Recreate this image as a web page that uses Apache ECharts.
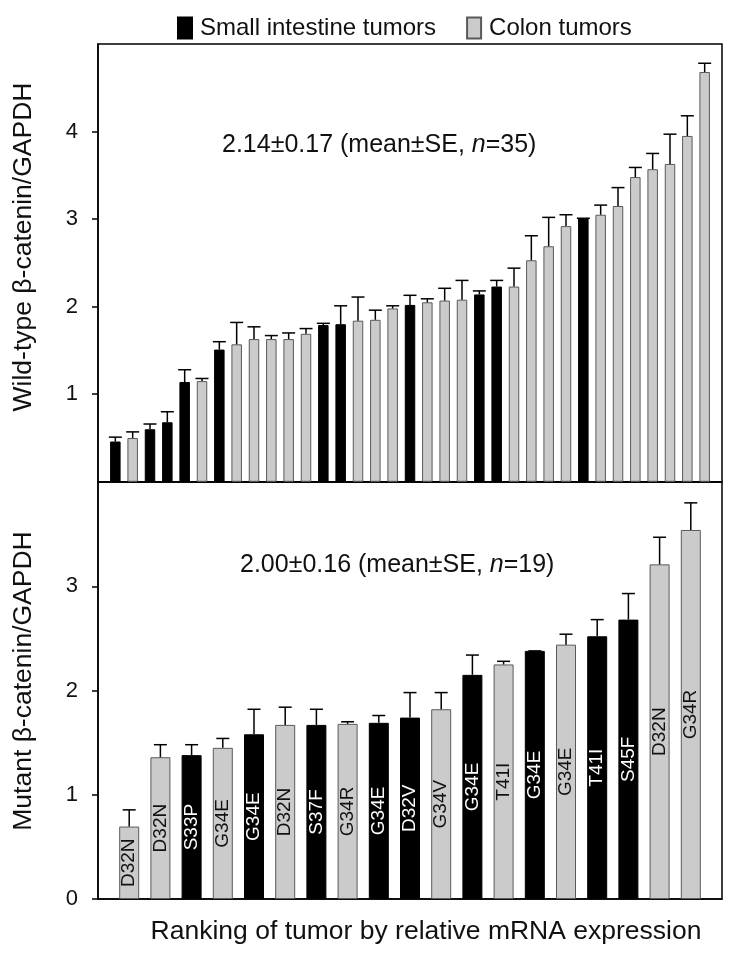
<!DOCTYPE html>
<html>
<head>
<meta charset="utf-8">
<script src="https://cdn.jsdelivr.net/npm/echarts@6/dist/echarts.min.js"></script>
<style>
html,body{margin:0;padding:0;background:#fff;}
#chart{width:729px;height:953px;}
</style>
</head>
<body>
<div id="chart"></div>
<script>
// ---- Data ----
// Top panel: wild-type beta-catenin/GAPDH, ranked (S = small intestine, C = colon)
var topTypes = ['S','C','S','S','S','C','S','C','C','C','C','C','S','S','C','C','C','S','C','C','C','S','S','C','C','C','C','S','C','C','C','C','C','C','C'];
var topValues = [0.46,0.50,0.60,0.68,1.14,1.15,1.51,1.57,1.63,1.63,1.63,1.69,1.79,1.80,1.84,1.85,1.98,2.02,2.05,2.07,2.08,2.14,2.23,2.23,2.53,2.69,2.92,3.01,3.05,3.15,3.48,3.57,3.63,3.95,4.68];
var topSE = [0.05,0.07,0.06,0.12,0.14,0.03,0.09,0.25,0.14,0.04,0.07,0.06,0.02,0.21,0.27,0.11,0.03,0.11,0.04,0.14,0.22,0.04,0.07,0.21,0.28,0.33,0.13,0.00,0.11,0.21,0.11,0.18,0.34,0.23,0.10];

// Bottom panel: mutant beta-catenin/GAPDH
var botTypes = ['C','C','S','C','S','C','S','C','S','S','C','S','C','S','C','S','S','C','C'];
var botLabels = ['D32N','D32N','S33P','G34E','G34E','D32N','S37F','G34R','G34E','D32V','G34V','G34E','T41I','G34E','G34E','T41I','S45F','D32N','G34R'];
var botValues = [0.695,1.36,1.38,1.45,1.58,1.67,1.67,1.68,1.69,1.74,1.82,2.15,2.25,2.38,2.44,2.52,2.68,3.21,3.54];
var botSE = [0.16,0.12,0.10,0.09,0.24,0.17,0.15,0.02,0.07,0.24,0.16,0.19,0.03,0.00,0.10,0.16,0.25,0.26,0.26];

var topTicks = [1,2,3,4];
var botTicks = [0,1,2,3];
var seriesNames = {S:'Small intestine tumors', C:'Colon tumors'};
var topNote = '2.14±0.17 (mean±SE, {i|n}=35)';
var botNote = '2.00±0.16 (mean±SE, {i|n}=19)';
var yTitleTop = 'Wild-type β-catenin/GAPDH';
var yTitleBot = 'Mutant β-catenin/GAPDH';
var xTitle = 'Ranking of tumor by relative mRNA expression';

// ---- Build ----
var FONT = '"Liberation Sans", Arial, sans-serif';
var GRAY = '#cbcbcb';
var GRAY_BORDER = '#5a5a5a';

function barData(types, values, type, labels) {
  var out = [];
  for (var i = 0; i < values.length; i++) {
    if (types[i] === type) {
      out.push({name: labels ? labels[i] : '', value: [i + 1, values[i]]});
    }
  }
  return out;
}
function errData(values, se) {
  return values.map(function (v, i) { return [i + 1, v, se[i]]; });
}
function errRender(params, api) {
  var x = api.value(0), y = api.value(1), e = api.value(2);
  var p0 = api.coord([x, y]);
  var p1 = api.coord([x, y + e]);
  var st = {stroke: '#000', lineWidth: 1.5};
  return {
    type: 'group',
    children: [
      {type: 'line', shape: {x1: p0[0], y1: p0[1], x2: p1[0], y2: p1[1]}, style: st},
      {type: 'line', shape: {x1: p1[0] - 6.5, y1: p1[1], x2: p1[0] + 6.5, y2: p1[1]}, style: st}
    ]
  };
}

var styleS = {color: '#000', borderColor: '#000', borderWidth: 1};
var styleC = {color: GRAY, borderColor: GRAY_BORDER, borderWidth: 1};

var yAxisCommon = function (gi, max, ticks) {
  return {
    type: 'value', gridIndex: gi, min: 0, max: max, interval: 1,
    splitLine: {show: false},
    axisLine: {show: true, lineStyle: {color: '#000', width: 1.5}},
    axisTick: {show: true, inside: false, length: 6, customValues: ticks, lineStyle: {color: '#000', width: 1.5}},
    axisLabel: {show: true, customValues: ticks, margin: 20, fontSize: 22, color: '#111', fontFamily: FONT}
  };
};
var xAxisCommon = function (gi, max) {
  return {
    type: 'value', gridIndex: gi, min: 0, max: max,
    splitLine: {show: false},
    axisLine: {show: true, onZero: false, lineStyle: {color: '#000', width: 1.5}},
    axisTick: {show: false}, axisLabel: {show: false}
  };
};

var option = {
  animation: false,
  backgroundColor: '#fff',
  textStyle: {fontFamily: FONT},
  legend: {
    left: 172, top: 11,
    itemWidth: 14, itemHeight: 21, itemGap: 30,
    icon: 'rect',
    data: [seriesNames.S, seriesNames.C],
    textStyle: {fontSize: 24, color: '#111', fontFamily: FONT, padding: [0, 0, 0, 3]}
  },
  grid: [
    {left: 98, right: 7, top: 44, height: 437.8, show: true, borderColor: '#000', borderWidth: 1.5, backgroundColor: 'transparent'},
    {left: 98, right: 7, top: 482, height: 417, show: true, borderColor: '#000', borderWidth: 1.5, backgroundColor: 'transparent'}
  ],
  xAxis: [xAxisCommon(0, 36), xAxisCommon(1, 20)],
  yAxis: [yAxisCommon(0, 5, topTicks), yAxisCommon(1, 4, botTicks)],
  series: [
    {name: seriesNames.S, type: 'bar', xAxisIndex: 0, yAxisIndex: 0, barWidth: 10.5, barGap: '-100%',
     itemStyle: styleS, data: barData(topTypes, topValues, 'S')},
    {name: seriesNames.C, type: 'bar', xAxisIndex: 0, yAxisIndex: 0, barWidth: 10.5, barGap: '-100%',
     itemStyle: styleC, data: barData(topTypes, topValues, 'C')},
    {type: 'custom', xAxisIndex: 0, yAxisIndex: 0, renderItem: errRender, data: errData(topValues, topSE), z: 3},
    {name: seriesNames.S, type: 'bar', xAxisIndex: 1, yAxisIndex: 1, barWidth: 20, barGap: '-100%',
     itemStyle: styleS, data: barData(botTypes, botValues, 'S', botLabels),
     label: {show: true, position: 'inside', rotate: 90, formatter: '{b}', color: '#fff', fontSize: 19, fontFamily: FONT}},
    {name: seriesNames.C, type: 'bar', xAxisIndex: 1, yAxisIndex: 1, barWidth: 20, barGap: '-100%',
     itemStyle: styleC, data: barData(botTypes, botValues, 'C', botLabels),
     label: {show: true, position: 'inside', rotate: 90, formatter: '{b}', color: '#111', fontSize: 19, fontFamily: FONT}},
    {type: 'custom', xAxisIndex: 1, yAxisIndex: 1, renderItem: errRender, data: errData(botValues, botSE), z: 3}
  ],
  graphic: [
    {type: 'text', left: 222, top: 133, style: {text: topNote, fontSize: 25, fontFamily: FONT, fill: '#111',
      rich: {i: {fontStyle: 'italic', fontSize: 25, fontFamily: FONT, fill: '#111'}}}},
    {type: 'text', left: 240, top: 553, style: {text: botNote, fontSize: 25, fontFamily: FONT, fill: '#111',
      rich: {i: {fontStyle: 'italic', fontSize: 25, fontFamily: FONT, fill: '#111'}}}},
    {type: 'text', x: 24, y: 247, rotation: Math.PI / 2,
      style: {text: yTitleTop, fontSize: 26.5, fontFamily: FONT, fill: '#111', textAlign: 'center', textVerticalAlign: 'middle'}},
    {type: 'text', x: 24, y: 681, rotation: Math.PI / 2,
      style: {text: yTitleBot, fontSize: 26.5, fontFamily: FONT, fill: '#111', textAlign: 'center', textVerticalAlign: 'middle'}},
    {type: 'text', x: 426, y: 932,
      style: {text: xTitle, fontSize: 26.5, fontFamily: FONT, fill: '#111', textAlign: 'center', textVerticalAlign: 'middle'}}
  ]
};

var chart = echarts.init(document.getElementById('chart'), null, {renderer: 'canvas'});
chart.setOption(option);
</script>
</body>
</html>
